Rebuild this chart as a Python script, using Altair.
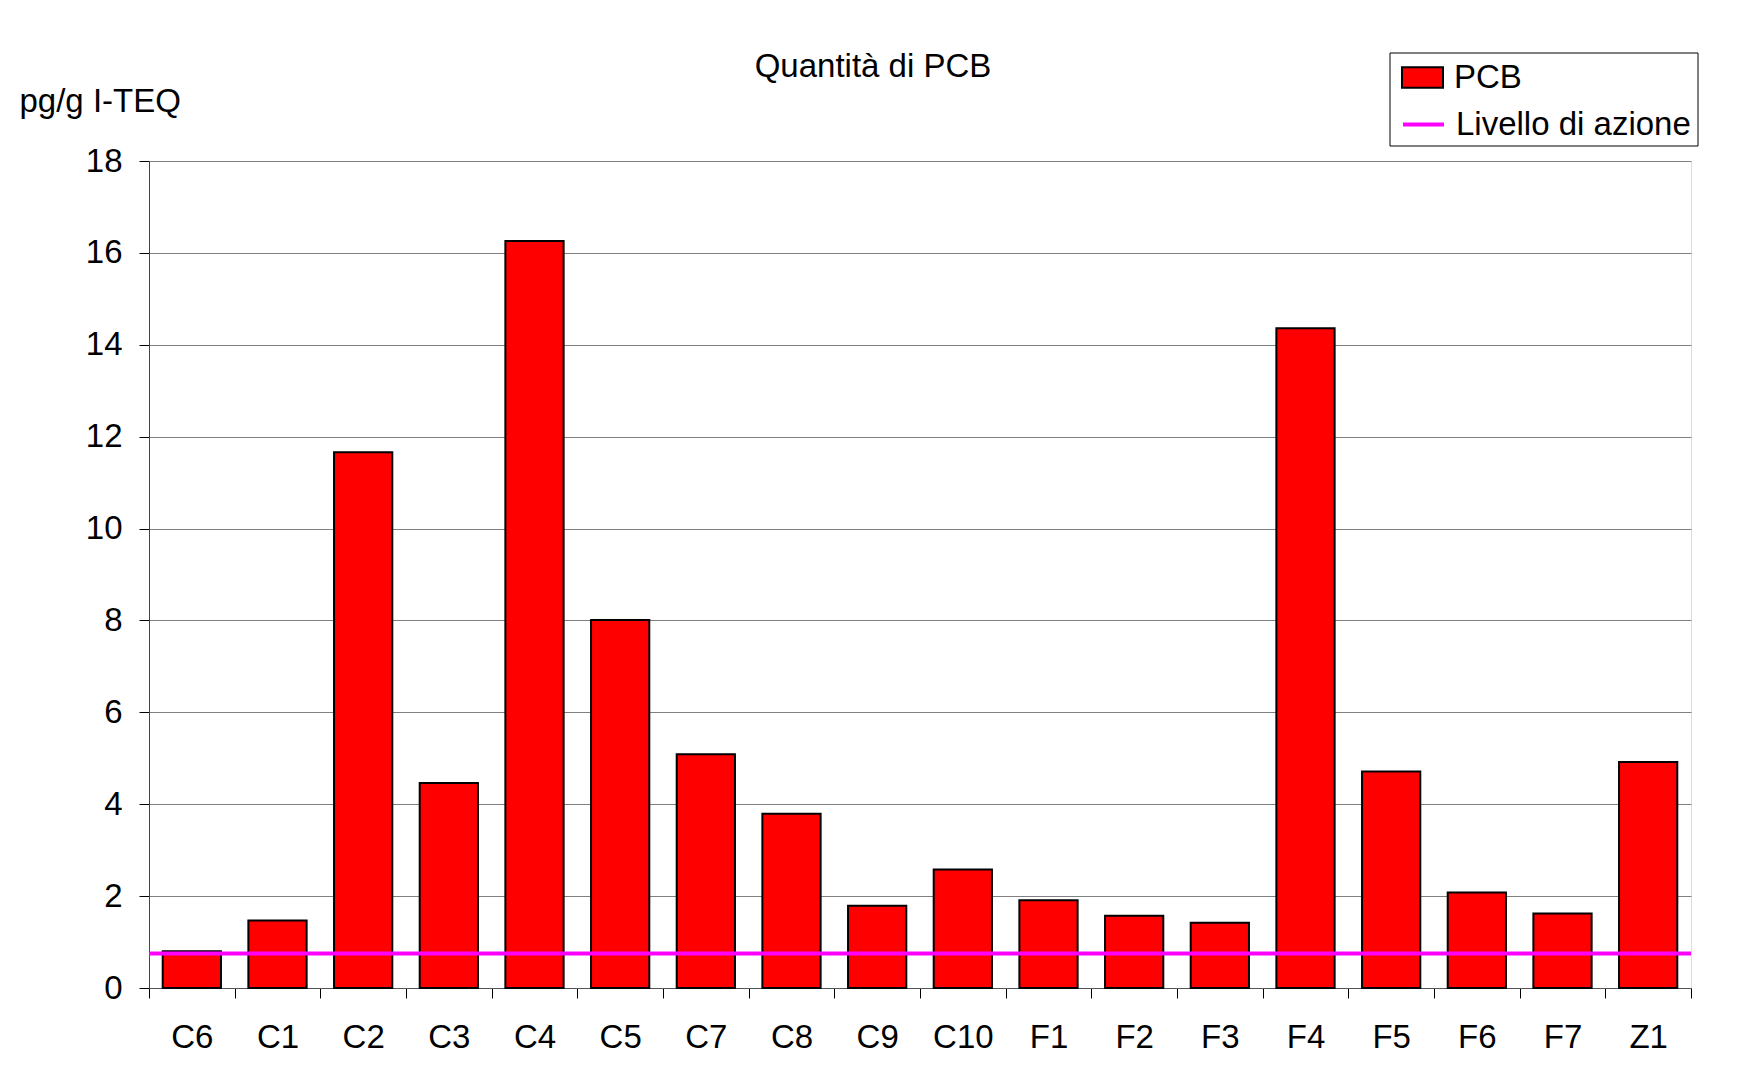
import altair as alt
import pandas as pd

categories = ["C6", "C1", "C2", "C3", "C4", "C5", "C7", "C8", "C9", "C10",
              "F1", "F2", "F3", "F4", "F5", "F6", "F7", "Z1"]
pcb_values = [0.80, 1.47, 11.66, 4.46, 16.26, 8.01, 5.09, 3.79, 1.79, 2.58,
              1.91, 1.57, 1.42, 14.36, 4.71, 2.08, 1.62, 4.92]
action_level = [0.75]
y_ticks = [0, 2, 4, 6, 8, 10, 12, 14, 16, 18]
title_text = ["Quantità di PCB"]

FONT = "Liberation Sans"
FS = 33
W, H = 1542, 827

bars_df = pd.DataFrame({"cat": categories, "val": pcb_values, "series": "PCB"})
level_df = pd.DataFrame({"level": action_level, "series": "Livello di azione"})
box_df = pd.DataFrame({"k": [0]})
title_df = pd.DataFrame({"t": title_text})

x_enc = alt.X(
    "cat:N", sort=categories, title=None,
    scale=alt.Scale(paddingInner=0, paddingOuter=0),
    axis=alt.Axis(
        labelAngle=0, labelFont=FONT, labelFontSize=FS, labelColor="black",
        labelBaseline="alphabetic", labelPadding=49, tickSize=10,
        tickColor="#000000", domainColor="#555555", tickBand="extent",
        grid=False, labelFlush=False,
    ),
)
y_enc = alt.Y(
    "val:Q",
    scale=alt.Scale(domain=[0, 18], nice=False, zero=True),
    axis=alt.Axis(
        values=y_ticks, title="pg/g I-TEQ", titleAngle=0, titleAlign="left",
        titleBaseline="alphabetic", titleX=-130, titleY=-50, titleFont=FONT,
        titleFontSize=FS, titleFontWeight="normal", titleColor="black",
        labelFont=FONT, labelFontSize=FS, labelColor="black", labelPadding=17,
        tickSize=10, tickColor="#000000", domainColor="#444444",
        grid=True, gridColor="#808080", gridWidth=1,
    ),
)

bars = alt.Chart(bars_df).mark_bar(
    stroke="black", strokeWidth=2, width=alt.RelativeBandSize(0.68)
).encode(
    x=x_enc,
    y=y_enc,
    fill=alt.Fill(
        "series:N",
        scale=alt.Scale(domain=["PCB"], range=["#ff0000"]),
        legend=alt.Legend(
            title=None, orient="none", legendX=1252, legendY=-105, padding=0,
            symbolType="M-1,-0.5H1V0.5H-1Z", symbolSize=1681,
            symbolStrokeColor="black", symbolStrokeWidth=2, symbolOpacity=1,
            labelFont=FONT, labelFontSize=FS, labelColor="black", labelOffset=10,
            labelLimit=0,
        ),
    ),
)

level = alt.Chart(level_df).mark_rule(strokeWidth=4).encode(
    y=alt.Y("level:Q"),
    stroke=alt.Stroke(
        "series:N",
        scale=alt.Scale(domain=["Livello di azione"], range=["#ff00ff"]),
        legend=alt.Legend(
            title=None, orient="none", legendX=1252, legendY=-59, padding=0,
            symbolType="stroke", symbolSize=1681, symbolStrokeWidth=4,
            labelFont=FONT, labelFontSize=FS, labelColor="black", labelOffset=10,
            labelLimit=0,
        ),
    ),
)

box = alt.Chart(box_df).mark_rect(fill="white", stroke="black", strokeWidth=1).encode(
    x=alt.value(1241), x2=alt.value(1549), y=alt.value(-108), y2=alt.value(-15)
)

title = alt.Chart(title_df).mark_text(
    font=FONT, fontSize=FS, color="black", align="center", baseline="alphabetic"
).encode(text="t:N", x=alt.value(724), y=alt.value(-84))

chart = alt.layer(bars, level, box, title).properties(
    width=W, height=H,
    autosize=alt.AutoSizeParams(type="none"),
    padding={"left": 141, "top": 153, "right": 39, "bottom": 88},
).configure_view(stroke="#808080", strokeWidth=1).configure(background="white")

chart.save("out.html", embed_options={"renderer": "svg", "actions": False})
